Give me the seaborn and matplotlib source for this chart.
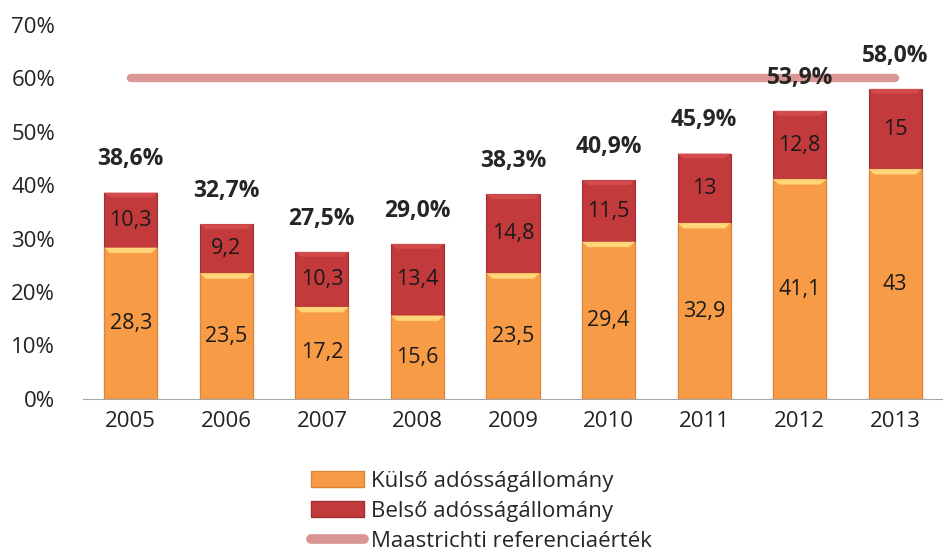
import numpy as np
import pandas as pd
import matplotlib.pyplot as plt
import seaborn as sns
from matplotlib.patches import Patch, Polygon
from matplotlib.lines import Line2D

years = ['2005', '2006', '2007', '2008', '2009', '2010', '2011', '2012', '2013']
kulso = [28.3, 23.5, 17.2, 15.6, 23.5, 29.4, 32.9, 41.1, 43.0]
belso = [10.3, 9.2, 10.3, 13.4, 14.8, 11.5, 13.0, 12.8, 15.0]
osszes = [38.6, 32.7, 27.5, 29.0, 38.3, 40.9, 45.9, 53.9, 58.0]
maastricht = [60.0] * len(years)

orange = '#F89B47'
red = '#C23A3B'
line_col = '#D99694'

sns.set_style('white')
plt.rcParams['font.family'] = ['Open Sans', 'DejaVu Sans']

df = pd.DataFrame({'ev': years, 'kulso': kulso, 'belso': belso, 'osszes': osszes})

fig = plt.figure(figsize=(9.43, 5.51), dpi=100)
ax = fig.add_axes([0.088, 0.276, 0.912, 0.679])

# stacked: total in red, external on top of it in orange
sns.barplot(data=df, x='ev', y='osszes', color=red, width=0.555, saturation=1,
            edgecolor='#A02F31', linewidth=0.8, ax=ax)
n = len(ax.patches)
sns.barplot(data=df, x='ev', y='kulso', color=orange, width=0.555, saturation=1,
            edgecolor='#DA8535', linewidth=0.8, ax=ax)
red_bars = ax.patches[:n]
org_bars = ax.patches[n:]


def bevel(p, h, inset, col):
    x0, w, top = p.get_x(), p.get_width(), p.get_height()
    pts = [(x0, top), (x0 + w, top), (x0 + w - inset, top - h), (x0 + inset, top - h)]
    ax.add_patch(Polygon(pts, closed=True, color=col, lw=0, zorder=3))


for p in org_bars:
    bevel(p, 1.0, 0.06, '#FFD57A')
for p in red_bars:
    bevel(p, 0.9, 0.06, '#D34B4C')

sns.lineplot(x=np.arange(len(years)), y=maastricht, color=line_col, lw=6,
             solid_capstyle='round', ax=ax, zorder=5)


def lab(v):
    return f'{v:g}'.replace('.', ',')


for i in range(len(years)):
    ax.text(i, kulso[i] / 2, lab(kulso[i]), ha='center', va='center', fontsize=15.5,
            color='#1a1a1a', zorder=6)
    ax.text(i, kulso[i] + belso[i] / 2, lab(belso[i]), ha='center', va='center',
            fontsize=15.5, color='#1a1a1a', zorder=6)
    ax.annotate(f'{osszes[i]:.1f}%'.replace('.', ','), (i, osszes[i]), xytext=(0, 24),
                textcoords='offset points', ha='center', va='center',
                fontsize=16.5, fontweight='bold', zorder=6)

ax.set_ylim(0, 70)
ax.set_xlim(-0.5, len(years) - 0.5)
ax.set_yticks(range(0, 71, 10))
ax.set_yticklabels([f'{v}%' for v in range(0, 71, 10)])
ax.set_xlabel('')
ax.set_ylabel('')
ax.tick_params(axis='both', labelsize=16, length=0, colors='#222222')
ax.tick_params(axis='y', pad=20)
ax.tick_params(axis='x', pad=9)
for s in ['left', 'right', 'top']:
    ax.spines[s].set_visible(False)
ax.spines['bottom'].set_color('#A6A6A6')

handles = [Patch(facecolor=orange, edgecolor='#DA8535'),
           Patch(facecolor=red, edgecolor='#A02F31'),
           Line2D([0], [0], color=line_col, lw=7, solid_capstyle='round')]
labels = ['Külső adósságállomány', 'Belső adósságállomány', 'Maastrichti referenciaérték']
fig.legend(handles, labels, loc='upper left', bbox_to_anchor=(0.318, 0.166),
           frameon=False, fontsize=16, handlelength=2.4, handleheight=0.75,
           handletextpad=0.3, labelspacing=0.42, borderpad=0.0)

fig.savefig('out.png', dpi=100)
